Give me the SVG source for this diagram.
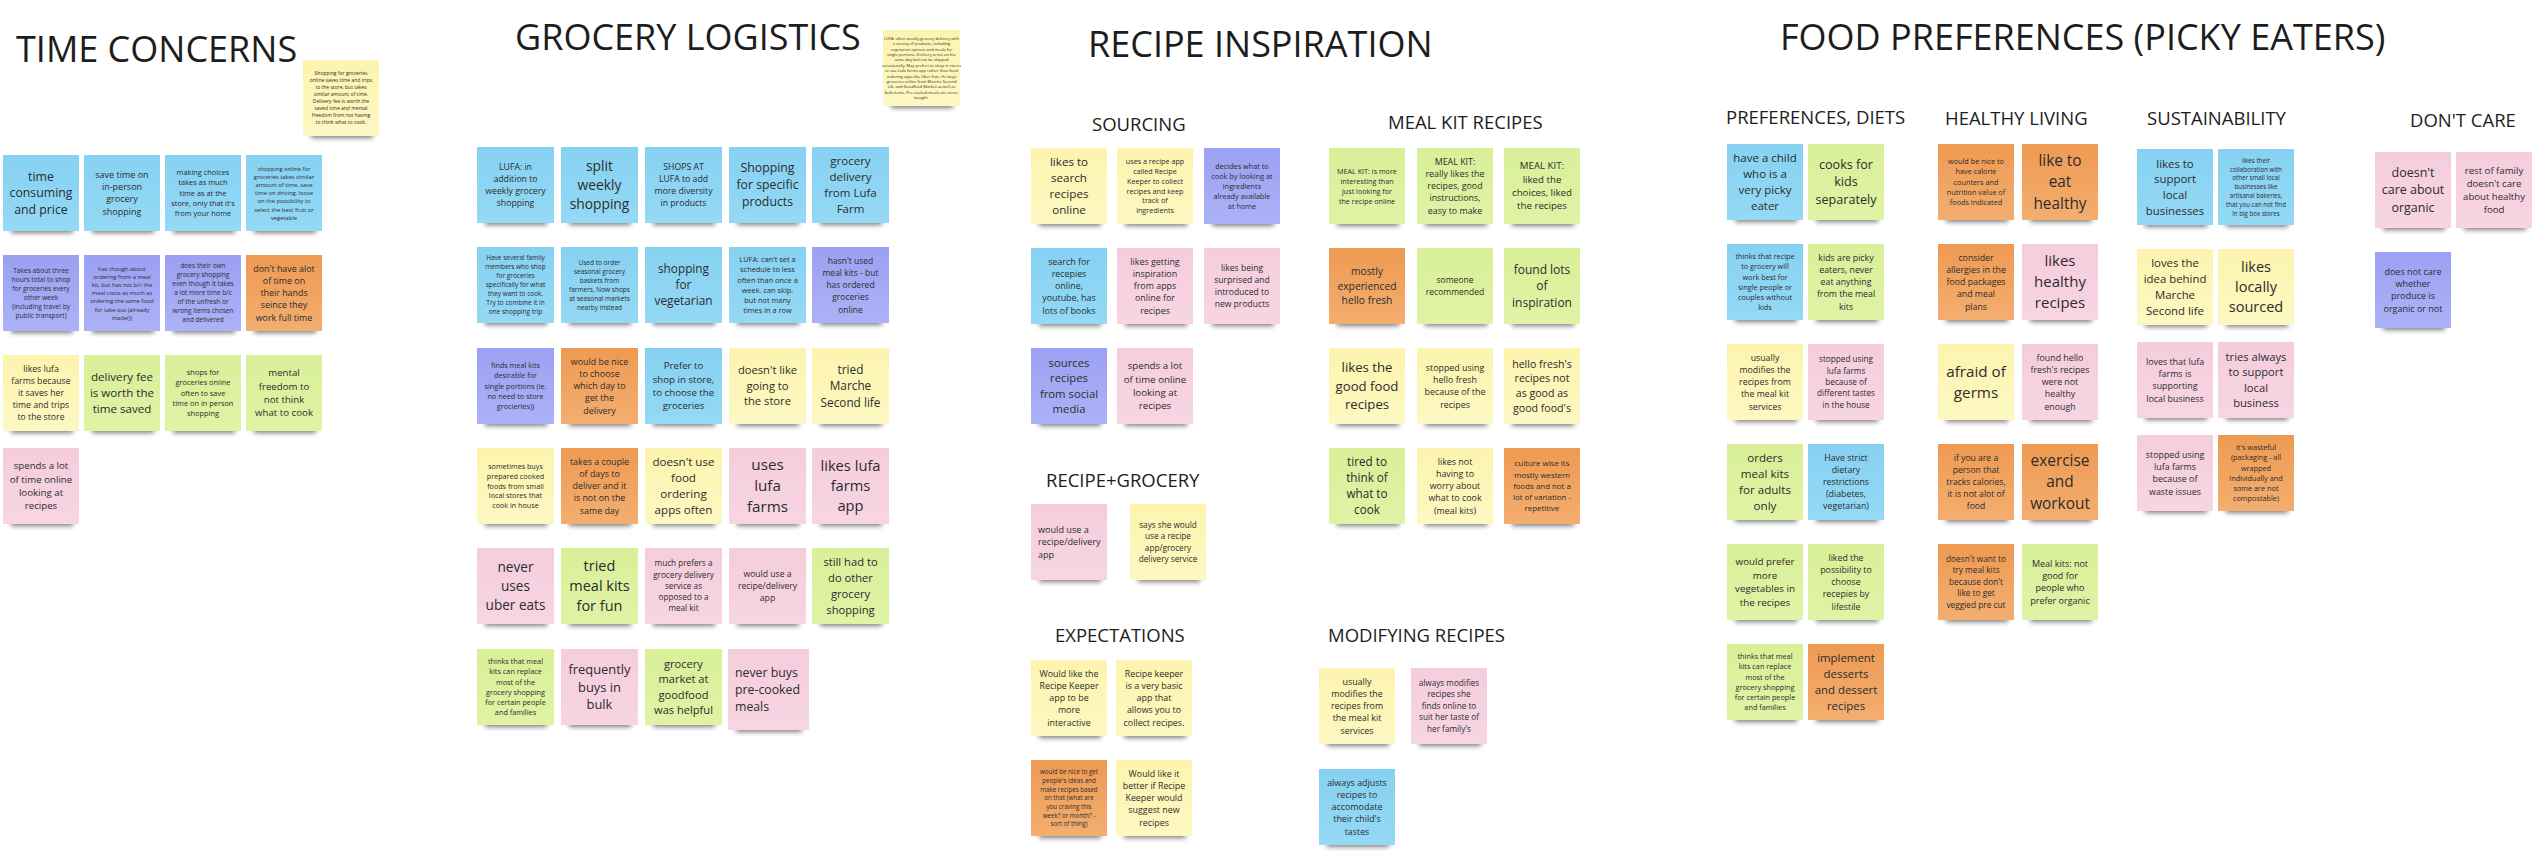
<svg xmlns="http://www.w3.org/2000/svg" width="2538" height="862" viewBox="0 0 2538 862">
<defs>
<linearGradient id="gb" x1="0" y1="0" x2="0" y2="1"><stop offset="0" stop-color="#86d1f2"/><stop offset="1" stop-color="#94d9f5"/></linearGradient>
<linearGradient id="gv" x1="0" y1="0" x2="0" y2="1"><stop offset="0" stop-color="#9ba0f2"/><stop offset="1" stop-color="#acb2f7"/></linearGradient>
<linearGradient id="go" x1="0" y1="0" x2="0" y2="1"><stop offset="0" stop-color="#ee9a52"/><stop offset="1" stop-color="#f3ae70"/></linearGradient>
<linearGradient id="gy" x1="0" y1="0" x2="0" y2="1"><stop offset="0" stop-color="#fcf4ae"/><stop offset="1" stop-color="#fdf8c2"/></linearGradient>
<linearGradient id="gg" x1="0" y1="0" x2="0" y2="1"><stop offset="0" stop-color="#d9ef98"/><stop offset="1" stop-color="#e0f3a6"/></linearGradient>
<linearGradient id="gp" x1="0" y1="0" x2="0" y2="1"><stop offset="0" stop-color="#f5cddd"/><stop offset="1" stop-color="#f7d5e2"/></linearGradient>
<filter id="blur" x="-20%" y="-50%" width="140%" height="200%"><feGaussianBlur stdDeviation="2.6"/></filter>
</defs>
<style>
.b{fill:url(#gb)}.v{fill:url(#gv)}.o{fill:url(#go)}.y{fill:url(#gy)}.g{fill:url(#gg)}.p{fill:url(#gp)}
.sh{fill:#000;opacity:.5;filter:url(#blur)}
text{font-family:"Open Sans","Liberation Sans",sans-serif;fill:#2c2c2c;text-anchor:middle}
text.l{text-anchor:start}
.h1{font-size:36px;fill:#1d1d1d;text-anchor:start}
.h2{font-size:18.5px;fill:#1d1d1d;text-anchor:start}
</style>
<rect width="2538" height="862" fill="#ffffff"/>

<g id="titles">
<text class="h1" x="16" y="62">TIME CONCERNS</text>
<text class="h1" x="515" y="50">GROCERY LOGISTICS</text>
<text class="h1" x="1088" y="57">RECIPE INSPIRATION</text>
<text class="h1" x="1780" y="50">FOOD PREFERENCES (PICKY EATERS)</text>
<text class="h2" x="1092" y="131">SOURCING</text>
<text class="h2" x="1388" y="129">MEAL KIT RECIPES</text>
<text class="h2" x="1046" y="487">RECIPE+GROCERY</text>
<text class="h2" x="1055" y="642">EXPECTATIONS</text>
<text class="h2" x="1328" y="642">MODIFYING RECIPES</text>
<text class="h2" x="1726" y="124">PREFERENCES, DIETS</text>
<text class="h2" x="1945" y="125">HEALTHY LIVING</text>
<text class="h2" x="2147" y="125">SUSTAINABILITY</text>
<text class="h2" x="2410" y="127">DON'T CARE</text>
</g>

<g id="connectors"></g>

<!-- TIME CONCERNS -->
<g id="t-note" transform="translate(303,60)"><rect class="sh" x="8" y="68" width="62" height="10"/><rect class="y" width="76" height="76"/><text style="font-size:5px" y="15.3"><tspan x="38">Shopping for groceries</tspan><tspan x="38" dy="7">online saves time and trips</tspan><tspan x="38" dy="7">to the store, but takes</tspan><tspan x="38" dy="7">similar amount of time.</tspan><tspan x="38" dy="7">Delivery fee is worth the</tspan><tspan x="38" dy="7">saved time and mental</tspan><tspan x="38" dy="7">freedom from not having</tspan><tspan x="38" dy="7">to think what to cook.</tspan></text></g>
<g id="t1" transform="translate(3,155)"><rect class="sh" x="8" y="68" width="62" height="10"/><rect class="b" width="76" height="76"/><text style="font-size:12.3px" y="25.6"><tspan x="38">time</tspan><tspan x="38" dy="16.7">consuming</tspan><tspan x="38" dy="16.7">and price</tspan></text></g>
<g id="t2" transform="translate(84,155)"><rect class="sh" x="8" y="68" width="62" height="10"/><rect class="b" width="76" height="76"/><text style="font-size:9px" y="22.8"><tspan x="38">save time on</tspan><tspan x="38" dy="12.25">in-person</tspan><tspan x="38" dy="12.25">grocery</tspan><tspan x="38" dy="12.25">shopping</tspan></text></g>
<g id="t3" transform="translate(165,155)"><rect class="sh" x="8" y="68" width="62" height="10"/><rect class="b" width="76" height="76"/><text style="font-size:7.4px" y="20.2"><tspan x="38">making choices</tspan><tspan x="38" dy="10.2">takes as much</tspan><tspan x="38" dy="10.2">time as at the</tspan><tspan x="38" dy="10.2">store, only that it's</tspan><tspan x="38" dy="10.2">from your home</tspan></text></g>
<g id="t4" transform="translate(246,155)"><rect class="sh" x="8" y="68" width="62" height="10"/><rect class="b" width="76" height="76"/><text style="font-size:5.8px" y="15.5"><tspan x="38">shopping online for</tspan><tspan x="38" dy="8.2">groceries takes similar</tspan><tspan x="38" dy="8.2">amount of time, save</tspan><tspan x="38" dy="8.2">time on driving, loose</tspan><tspan x="38" dy="8.2">on the possibility to</tspan><tspan x="38" dy="8.2">select the best fruit or</tspan><tspan x="38" dy="8.2">vegetable</tspan></text></g>
<g id="t5" transform="translate(3,255)"><rect class="sh" x="8" y="68" width="62" height="10"/><rect class="v" width="76" height="76"/><text style="font-size:6.6px" y="17.5"><tspan x="38">Takes about three</tspan><tspan x="38" dy="9.1">hours total to shop</tspan><tspan x="38" dy="9.1">for groceries every</tspan><tspan x="38" dy="9.1">other week</tspan><tspan x="38" dy="9.1">(including travel by</tspan><tspan x="38" dy="9.1">public transport)</tspan></text></g>
<g id="t6" transform="translate(84,255)"><rect class="sh" x="8" y="68" width="62" height="10"/><rect class="v" width="76" height="76"/><text style="font-size:5.8px" y="15.5"><tspan x="38">has though about</tspan><tspan x="38" dy="8.2">ordering from a meal</tspan><tspan x="38" dy="8.2">kit, but has not b/c the</tspan><tspan x="38" dy="8.2">meal costs as much as</tspan><tspan x="38" dy="8.2">ordering the same food</tspan><tspan x="38" dy="8.2">for take out (already</tspan><tspan x="38" dy="8.2">made())</tspan></text></g>
<g id="t7" transform="translate(165,255)"><rect class="sh" x="8" y="68" width="62" height="10"/><rect class="v" width="76" height="76"/><text style="font-size:6.5px" y="13.3"><tspan x="38">does their own</tspan><tspan x="38" dy="9">grocery shopping</tspan><tspan x="38" dy="9">even though it takes</tspan><tspan x="38" dy="9">a lot more time b/c</tspan><tspan x="38" dy="9">of the unfresh or</tspan><tspan x="38" dy="9">wrong items chosen</tspan><tspan x="38" dy="9">and delivered</tspan></text></g>
<g id="t8" transform="translate(246,255)"><rect class="sh" x="8" y="68" width="62" height="10"/><rect class="o" width="76" height="76"/><text style="font-size:8.9px" y="16.6"><tspan x="38">don't have alot</tspan><tspan x="38" dy="12.25">of time on</tspan><tspan x="38" dy="12.25">their hands</tspan><tspan x="38" dy="12.25">seince they</tspan><tspan x="38" dy="12.25">work full time</tspan></text></g>
<g id="t9" transform="translate(3,355)"><rect class="sh" x="8" y="68" width="62" height="10"/><rect class="y" width="76" height="76"/><text style="font-size:8.7px" y="17"><tspan x="38">likes lufa</tspan><tspan x="38" dy="12">farms because</tspan><tspan x="38" dy="12">it saves her</tspan><tspan x="38" dy="12">time and trips</tspan><tspan x="38" dy="12">to the store</tspan></text></g>
<g id="t10" transform="translate(84,355)"><rect class="sh" x="8" y="68" width="62" height="10"/><rect class="g" width="76" height="76"/><text style="font-size:11.6px" y="26"><tspan x="38">delivery fee</tspan><tspan x="38" dy="16">is worth the</tspan><tspan x="38" dy="16">time saved</tspan></text></g>
<g id="t11" transform="translate(165,355)"><rect class="sh" x="8" y="68" width="62" height="10"/><rect class="g" width="76" height="76"/><text style="font-size:7.4px" y="20.1"><tspan x="38">shops for</tspan><tspan x="38" dy="10.25">groceries online</tspan><tspan x="38" dy="10.25">often  to save</tspan><tspan x="38" dy="10.25">time on in person</tspan><tspan x="38" dy="10.25">shopping</tspan></text></g>
<g id="t12" transform="translate(246,355)"><rect class="sh" x="8" y="68" width="62" height="10"/><rect class="g" width="76" height="76"/><text style="font-size:9.7px" y="21.4"><tspan x="38">mental</tspan><tspan x="38" dy="13.3">freedom to</tspan><tspan x="38" dy="13.3">not think</tspan><tspan x="38" dy="13.3">what to cook</tspan></text></g>
<g id="t13" transform="translate(3,448)"><rect class="sh" x="8" y="68" width="62" height="10"/><rect class="p" width="76" height="76"/><text style="font-size:9.7px" y="21.4"><tspan x="38">spends a lot</tspan><tspan x="38" dy="13.3">of time online</tspan><tspan x="38" dy="13.3">looking at</tspan><tspan x="38" dy="13.3">recipes</tspan></text></g>

<!-- GROCERY LOGISTICS -->
<g id="g-note" transform="translate(883,30)"><rect class="sh" x="8" y="68" width="62" height="10"/><rect class="y" width="77" height="76"/><text style="font-size:4px" y="9.7"><tspan x="38.5">LUFA: often weekly grocery delivery with</tspan><tspan x="38.5" dy="5.4">a variety of products, including</tspan><tspan x="38.5" dy="5.4">vegetarian options and meals for</tspan><tspan x="38.5" dy="5.4">single portions. Delivery is not on the</tspan><tspan x="38.5" dy="5.4">same day but can be skipped</tspan><tspan x="38.5" dy="5.4">occasionally. May prefers to shop in stores</tspan><tspan x="38.5" dy="5.4">or use Lufa farms app rather than food</tspan><tspan x="38.5" dy="5.4">ordering apps like Uber Eats. He buys</tspan><tspan x="38.5" dy="5.4">groceries online from Marche Second</tspan><tspan x="38.5" dy="5.4">Life and Goodfood Market as well as</tspan><tspan x="38.5" dy="5.4">bulk items. Pre-cooked meals are never</tspan><tspan x="38.5" dy="5.4">bought.</tspan></text></g>
<g id="g1" transform="translate(477,147)"><rect class="sh" x="8" y="68" width="62" height="10"/><rect class="b" width="77" height="76"/><text style="font-size:8.7px" y="23"><tspan x="38.5">LUFA: in</tspan><tspan x="38.5" dy="12">addition to</tspan><tspan x="38.5" dy="12">weekly grocery</tspan><tspan x="38.5" dy="12">shopping</tspan></text></g>
<g id="g2" transform="translate(561,147)"><rect class="sh" x="8" y="68" width="62" height="10"/><rect class="b" width="77" height="76"/><text style="font-size:13.8px" y="23.8"><tspan x="38.5">split</tspan><tspan x="38.5" dy="19">weekly</tspan><tspan x="38.5" dy="19">shopping</tspan></text></g>
<g id="g3" transform="translate(645,147)"><rect class="sh" x="8" y="68" width="62" height="10"/><rect class="b" width="77" height="76"/><text style="font-size:8.7px" y="23"><tspan x="38.5">SHOPS AT</tspan><tspan x="38.5" dy="12">LUFA to add</tspan><tspan x="38.5" dy="12">more diversity</tspan><tspan x="38.5" dy="12">in products</tspan></text></g>
<g id="g4" transform="translate(729,147)"><rect class="sh" x="8" y="68" width="62" height="10"/><rect class="b" width="77" height="76"/><text style="font-size:12.3px" y="25.3"><tspan x="38.5">Shopping</tspan><tspan x="38.5" dy="17">for specific</tspan><tspan x="38.5" dy="17">products</tspan></text></g>
<g id="g5" transform="translate(812,147)"><rect class="sh" x="8" y="68" width="62" height="10"/><rect class="b" width="77" height="76"/><text style="font-size:11.5px" y="18.2"><tspan x="38.5">grocery</tspan><tspan x="38.5" dy="15.9">delivery</tspan><tspan x="38.5" dy="15.9">from Lufa</tspan><tspan x="38.5" dy="15.9">Farm</tspan></text></g>
<g id="g6" transform="translate(477,247)"><rect class="sh" x="8" y="68" width="62" height="10"/><rect class="b" width="77" height="76"/><text style="font-size:6.5px" y="13.3"><tspan x="38.5">Have several family</tspan><tspan x="38.5" dy="9">members who shop</tspan><tspan x="38.5" dy="9">for groceries</tspan><tspan x="38.5" dy="9">specifically for what</tspan><tspan x="38.5" dy="9">they want to cook.</tspan><tspan x="38.5" dy="9">Try to combine it in</tspan><tspan x="38.5" dy="9">one shopping trip</tspan></text></g>
<g id="g7" transform="translate(561,247)"><rect class="sh" x="8" y="68" width="62" height="10"/><rect class="b" width="77" height="76"/><text style="font-size:6.5px" y="17.8"><tspan x="38.5">Used to order</tspan><tspan x="38.5" dy="9">seasonal grocery</tspan><tspan x="38.5" dy="9">baskets from</tspan><tspan x="38.5" dy="9">farmers, Now shops</tspan><tspan x="38.5" dy="9">at seasonal markets</tspan><tspan x="38.5" dy="9">nearby instead</tspan></text></g>
<g id="g8" transform="translate(645,247)"><rect class="sh" x="8" y="68" width="62" height="10"/><rect class="b" width="77" height="76"/><text style="font-size:11.8px" y="25.8"><tspan x="38.5">shopping</tspan><tspan x="38.5" dy="16.3">for</tspan><tspan x="38.5" dy="16.3">vegetarian</tspan></text></g>
<g id="g9" transform="translate(729,247)"><rect class="sh" x="8" y="68" width="62" height="10"/><rect class="b" width="77" height="76"/><text style="font-size:7.4px" y="15.1"><tspan x="38.5">LUFA: can't set a</tspan><tspan x="38.5" dy="10.2">schedule to less</tspan><tspan x="38.5" dy="10.2">often than once a</tspan><tspan x="38.5" dy="10.2">week. can skip.</tspan><tspan x="38.5" dy="10.2">but not many</tspan><tspan x="38.5" dy="10.2">times in a row</tspan></text></g>
<g id="g10" transform="translate(812,247)"><rect class="sh" x="8" y="68" width="62" height="10"/><rect class="v" width="77" height="76"/><text style="font-size:8.5px" y="16.6"><tspan x="38.5">hasn't used</tspan><tspan x="38.5" dy="12.25">meal kits - but</tspan><tspan x="38.5" dy="12.25">has ordered</tspan><tspan x="38.5" dy="12.25">groceries</tspan><tspan x="38.5" dy="12.25">online</tspan></text></g>
<g id="g11" transform="translate(477,348)"><rect class="sh" x="8" y="68" width="62" height="10"/><rect class="v" width="77" height="76"/><text style="font-size:7.3px" y="20.1"><tspan x="38.5">finds meal kits</tspan><tspan x="38.5" dy="10.25">desirable for</tspan><tspan x="38.5" dy="10.25">single portions (ie.</tspan><tspan x="38.5" dy="10.25">no need to store</tspan><tspan x="38.5" dy="10.25">grocieries))</tspan></text></g>
<g id="g12" transform="translate(561,348)"><rect class="sh" x="8" y="68" width="62" height="10"/><rect class="o" width="77" height="76"/><text style="font-size:8.9px" y="16.7"><tspan x="38.5">would be nice</tspan><tspan x="38.5" dy="12.2">to choose</tspan><tspan x="38.5" dy="12.2">which day to</tspan><tspan x="38.5" dy="12.2">get the</tspan><tspan x="38.5" dy="12.2">delivery</tspan></text></g>
<g id="g13" transform="translate(645,348)"><rect class="sh" x="8" y="68" width="62" height="10"/><rect class="b" width="77" height="76"/><text style="font-size:9.7px" y="21.4"><tspan x="38.5">Prefer to</tspan><tspan x="38.5" dy="13.3">shop in store,</tspan><tspan x="38.5" dy="13.3">to choose the</tspan><tspan x="38.5" dy="13.3">groceries</tspan></text></g>
<g id="g14" transform="translate(729,348)"><rect class="sh" x="8" y="68" width="62" height="10"/><rect class="y" width="77" height="76"/><text style="font-size:11.2px" y="26.4"><tspan x="38.5">doesn't like</tspan><tspan x="38.5" dy="15.5">going to</tspan><tspan x="38.5" dy="15.5">the store</tspan></text></g>
<g id="g15" transform="translate(812,348)"><rect class="sh" x="8" y="68" width="62" height="10"/><rect class="y" width="77" height="76"/><text style="font-size:11.8px" y="25.7"><tspan x="38.5">tried</tspan><tspan x="38.5" dy="16.5">Marche</tspan><tspan x="38.5" dy="16.5">Second life</tspan></text></g>
<g id="g16" transform="translate(477,448)"><rect class="sh" x="8" y="68" width="62" height="10"/><rect class="y" width="77" height="76"/><text style="font-size:7.2px" y="20.7"><tspan x="38.5">sometimes buys</tspan><tspan x="38.5" dy="9.9">prepared cooked</tspan><tspan x="38.5" dy="9.9">foods from small</tspan><tspan x="38.5" dy="9.9">local stores that</tspan><tspan x="38.5" dy="9.9">cook in house</tspan></text></g>
<g id="g17" transform="translate(561,448)"><rect class="sh" x="8" y="68" width="62" height="10"/><rect class="o" width="77" height="76"/><text style="font-size:8.9px" y="16.6"><tspan x="38.5">takes a couple</tspan><tspan x="38.5" dy="12.25">of days to</tspan><tspan x="38.5" dy="12.25">deliver and it</tspan><tspan x="38.5" dy="12.25">is not on the</tspan><tspan x="38.5" dy="12.25">same day</tspan></text></g>
<g id="g18" transform="translate(645,448)"><rect class="sh" x="8" y="68" width="62" height="10"/><rect class="y" width="77" height="76"/><text style="font-size:11.6px" y="18"><tspan x="38.5">doesn't use</tspan><tspan x="38.5" dy="16">food</tspan><tspan x="38.5" dy="16">ordering</tspan><tspan x="38.5" dy="16">apps often</tspan></text></g>
<g id="g19" transform="translate(729,448)"><rect class="sh" x="8" y="68" width="62" height="10"/><rect class="p" width="77" height="76"/><text style="font-size:15.2px" y="22.3"><tspan x="38.5">uses</tspan><tspan x="38.5" dy="21">lufa</tspan><tspan x="38.5" dy="21">farms</tspan></text></g>
<g id="g20" transform="translate(812,448)"><rect class="sh" x="8" y="68" width="62" height="10"/><rect class="p" width="77" height="76"/><text style="font-size:14.7px" y="22.8"><tspan x="38.5">likes lufa</tspan><tspan x="38.5" dy="20.3">farms</tspan><tspan x="38.5" dy="20.3">app</tspan></text></g>
<g id="g21" transform="translate(477,548)"><rect class="sh" x="8" y="68" width="62" height="10"/><rect class="p" width="77" height="76"/><text style="font-size:13.6px" y="24"><tspan x="38.5">never</tspan><tspan x="38.5" dy="18.8">uses</tspan><tspan x="38.5" dy="18.8">uber eats</tspan></text></g>
<g id="g22" transform="translate(561,548)"><rect class="sh" x="8" y="68" width="62" height="10"/><rect class="g" width="77" height="76"/><text style="font-size:14.5px" y="23.1"><tspan x="38.5">tried</tspan><tspan x="38.5" dy="20">meal kits</tspan><tspan x="38.5" dy="20">for fun</tspan></text></g>
<g id="g23" transform="translate(645,548)"><rect class="sh" x="8" y="68" width="62" height="10"/><rect class="p" width="77" height="76"/><text style="font-size:8.2px" y="18.4"><tspan x="38.5">much prefers a</tspan><tspan x="38.5" dy="11.25">grocery delivery</tspan><tspan x="38.5" dy="11.25">service as</tspan><tspan x="38.5" dy="11.25">opposed to a</tspan><tspan x="38.5" dy="11.25">meal kit</tspan></text></g>
<g id="g24" transform="translate(729,548)"><rect class="sh" x="8" y="68" width="62" height="10"/><rect class="p" width="77" height="76"/><text style="font-size:8.6px" y="29.2"><tspan x="38.5">would use a</tspan><tspan x="38.5" dy="11.8">recipe/delivery</tspan><tspan x="38.5" dy="11.8">app</tspan></text></g>
<g id="g25" transform="translate(812,548)"><rect class="sh" x="8" y="68" width="62" height="10"/><rect class="g" width="77" height="76"/><text style="font-size:11.2px" y="17.9"><tspan x="38.5">still had to</tspan><tspan x="38.5" dy="16.1">do other</tspan><tspan x="38.5" dy="16.1">grocery</tspan><tspan x="38.5" dy="16.1">shopping</tspan></text></g>
<g id="g26" transform="translate(477,649)"><rect class="sh" x="8" y="68" width="62" height="10"/><rect class="g" width="77" height="76"/><text style="font-size:7.3px" y="15.1"><tspan x="38.5">thinks that meal</tspan><tspan x="38.5" dy="10.2">kits can replace</tspan><tspan x="38.5" dy="10.2">most of the</tspan><tspan x="38.5" dy="10.2">grocery shopping</tspan><tspan x="38.5" dy="10.2">for certain people</tspan><tspan x="38.5" dy="10.2">and families</tspan></text></g>
<g id="g27" transform="translate(561,649)"><rect class="sh" x="8" y="68" width="62" height="10"/><rect class="p" width="77" height="76"/><text style="font-size:12.9px" y="24.7"><tspan x="38.5">frequently</tspan><tspan x="38.5" dy="17.8">buys in</tspan><tspan x="38.5" dy="17.8">bulk</tspan></text></g>
<g id="g28" transform="translate(645,649)"><rect class="sh" x="8" y="68" width="62" height="10"/><rect class="g" width="77" height="76"/><text style="font-size:11.1px" y="18.9"><tspan x="38.5">grocery</tspan><tspan x="38.5" dy="15.3">market at</tspan><tspan x="38.5" dy="15.3">goodfood</tspan><tspan x="38.5" dy="15.3">was helpful</tspan></text></g>
<g id="g29" transform="translate(728,649)"><rect class="sh" x="8" y="73" width="66" height="10"/><rect class="p" width="81" height="81"/><text class="l" style="font-size:12.3px" y="27.8"><tspan x="7">never buys</tspan><tspan x="7" dy="17">pre-cooked</tspan><tspan x="7" dy="17">meals</tspan></text></g>

<!-- RECIPE INSPIRATION: SOURCING -->
<g id="r1" transform="translate(1031,148)"><rect class="sh" x="8" y="68" width="62" height="10"/><rect class="y" width="76" height="76"/><text style="font-size:11.6px" y="18"><tspan x="38">likes to</tspan><tspan x="38" dy="16">search</tspan><tspan x="38" dy="16">recipes</tspan><tspan x="38" dy="16">online</tspan></text></g>
<g id="r2" transform="translate(1117,148)"><rect class="sh" x="8" y="68" width="62" height="10"/><rect class="y" width="76" height="76"/><text style="font-size:7.2px" y="15.8"><tspan x="38">uses a recipe app</tspan><tspan x="38" dy="9.9">called Recipe</tspan><tspan x="38" dy="9.9">Keeper to collect</tspan><tspan x="38" dy="9.9">recipes and keep</tspan><tspan x="38" dy="9.9">track of</tspan><tspan x="38" dy="9.9">ingredients</tspan></text></g>
<g id="r3" transform="translate(1204,148)"><rect class="sh" x="8" y="68" width="62" height="10"/><rect class="v" width="76" height="76"/><text style="font-size:7.3px" y="20.6"><tspan x="38">decides what to</tspan><tspan x="38" dy="10">cook by looking at</tspan><tspan x="38" dy="10">ingredients</tspan><tspan x="38" dy="10">already available</tspan><tspan x="38" dy="10">at home</tspan></text></g>
<g id="r4" transform="translate(1031,248)"><rect class="sh" x="8" y="68" width="62" height="10"/><rect class="b" width="76" height="76"/><text style="font-size:8.9px" y="16.7"><tspan x="38">search for</tspan><tspan x="38" dy="12.2">recepies</tspan><tspan x="38" dy="12.2">online,</tspan><tspan x="38" dy="12.2">youtube, has</tspan><tspan x="38" dy="12.2">lots of books</tspan></text></g>
<g id="r5" transform="translate(1117,248)"><rect class="sh" x="8" y="68" width="62" height="10"/><rect class="p" width="76" height="76"/><text style="font-size:8.9px" y="16.7"><tspan x="38">likes getting</tspan><tspan x="38" dy="12.2">inspiration</tspan><tspan x="38" dy="12.2">from apps</tspan><tspan x="38" dy="12.2">online for</tspan><tspan x="38" dy="12.2">recipes</tspan></text></g>
<g id="r6" transform="translate(1204,248)"><rect class="sh" x="8" y="68" width="62" height="10"/><rect class="p" width="76" height="76"/><text style="font-size:8.6px" y="23.2"><tspan x="38">likes being</tspan><tspan x="38" dy="11.9">surprised and</tspan><tspan x="38" dy="11.9">introduced to</tspan><tspan x="38" dy="11.9">new products</tspan></text></g>
<g id="r7" transform="translate(1031,348)"><rect class="sh" x="8" y="68" width="62" height="10"/><rect class="v" width="76" height="76"/><text style="font-size:11.3px" y="18.7"><tspan x="38">sources</tspan><tspan x="38" dy="15.5">recipes</tspan><tspan x="38" dy="15.5">from social</tspan><tspan x="38" dy="15.5">media</tspan></text></g>
<g id="r8" transform="translate(1117,348)"><rect class="sh" x="8" y="68" width="62" height="10"/><rect class="p" width="76" height="76"/><text style="font-size:9.7px" y="21.4"><tspan x="38">spends a lot</tspan><tspan x="38" dy="13.3">of time online</tspan><tspan x="38" dy="13.3">looking at</tspan><tspan x="38" dy="13.3">recipes</tspan></text></g>

<!-- MEAL KIT RECIPES -->
<g id="m1" transform="translate(1329,148)"><rect class="sh" x="8" y="68" width="62" height="10"/><rect class="g" width="76" height="76"/><text style="font-size:7.2px" y="25.6"><tspan x="38">MEAL KIT: is more</tspan><tspan x="38" dy="10">interesting than</tspan><tspan x="38" dy="10">just looking for</tspan><tspan x="38" dy="10">the recipe online</tspan></text></g>
<g id="m2" transform="translate(1417,148)"><rect class="sh" x="8" y="68" width="62" height="10"/><rect class="g" width="76" height="76"/><text style="font-size:8.9px" y="16.6"><tspan x="38">MEAL KIT:</tspan><tspan x="38" dy="12.25">really likes the</tspan><tspan x="38" dy="12.25">recipes, good</tspan><tspan x="38" dy="12.25">instructions,</tspan><tspan x="38" dy="12.25">easy to make</tspan></text></g>
<g id="m3" transform="translate(1504,148)"><rect class="sh" x="8" y="68" width="62" height="10"/><rect class="g" width="76" height="76"/><text style="font-size:9.7px" y="21.4"><tspan x="38">MEAL KIT:</tspan><tspan x="38" dy="13.3">liked the</tspan><tspan x="38" dy="13.3">choices, liked</tspan><tspan x="38" dy="13.3">the recipes</tspan></text></g>
<g id="m4" transform="translate(1329,248)"><rect class="sh" x="8" y="68" width="62" height="10"/><rect class="o" width="76" height="76"/><text style="font-size:10.3px" y="27.4"><tspan x="38">mostly</tspan><tspan x="38" dy="14.2">experienced</tspan><tspan x="38" dy="14.2">hello fresh</tspan></text></g>
<g id="m5" transform="translate(1417,248)"><rect class="sh" x="8" y="68" width="62" height="10"/><rect class="g" width="76" height="76"/><text style="font-size:8.5px" y="35.1"><tspan x="38">someone</tspan><tspan x="38" dy="11.7">recommended</tspan></text></g>
<g id="m6" transform="translate(1504,248)"><rect class="sh" x="8" y="68" width="62" height="10"/><rect class="g" width="76" height="76"/><text style="font-size:12px" y="25.7"><tspan x="38">found lots</tspan><tspan x="38" dy="16.5">of</tspan><tspan x="38" dy="16.5">inspiration</tspan></text></g>
<g id="m7" transform="translate(1329,348)"><rect class="sh" x="8" y="68" width="62" height="10"/><rect class="y" width="76" height="76"/><text style="font-size:13.2px" y="24.4"><tspan x="38">likes the</tspan><tspan x="38" dy="18.2">good food</tspan><tspan x="38" dy="18.2">recipes</tspan></text></g>
<g id="m8" transform="translate(1417,348)"><rect class="sh" x="8" y="68" width="62" height="10"/><rect class="y" width="76" height="76"/><text style="font-size:8.9px" y="22.7"><tspan x="38">stopped using</tspan><tspan x="38" dy="12.3">hello fresh</tspan><tspan x="38" dy="12.3">because of the</tspan><tspan x="38" dy="12.3">recipes</tspan></text></g>
<g id="m9" transform="translate(1504,348)"><rect class="sh" x="8" y="68" width="62" height="10"/><rect class="y" width="76" height="76"/><text style="font-size:10.6px" y="19.7"><tspan x="38">hello fresh's</tspan><tspan x="38" dy="14.7">recipes not</tspan><tspan x="38" dy="14.7">as good as</tspan><tspan x="38" dy="14.7">good food's</tspan></text></g>
<g id="m10" transform="translate(1329,448)"><rect class="sh" x="8" y="68" width="62" height="10"/><rect class="g" width="76" height="76"/><text style="font-size:11.7px" y="17.9"><tspan x="38">tired to</tspan><tspan x="38" dy="16.1">think of</tspan><tspan x="38" dy="16.1">what to</tspan><tspan x="38" dy="16.1">cook</tspan></text></g>
<g id="m11" transform="translate(1417,448)"><rect class="sh" x="8" y="68" width="62" height="10"/><rect class="y" width="76" height="76"/><text style="font-size:8.9px" y="16.6"><tspan x="38">likes not</tspan><tspan x="38" dy="12.25">having to</tspan><tspan x="38" dy="12.25">worry about</tspan><tspan x="38" dy="12.25">what to cook</tspan><tspan x="38" dy="12.25">(meal kits)</tspan></text></g>
<g id="m12" transform="translate(1504,448)"><rect class="sh" x="8" y="68" width="62" height="10"/><rect class="o" width="76" height="76"/><text style="font-size:7.9px" y="18.3"><tspan x="38">culture wise its</tspan><tspan x="38" dy="11.25">mostly western</tspan><tspan x="38" dy="11.25">foods and not a</tspan><tspan x="38" dy="11.25">lot of variation -</tspan><tspan x="38" dy="11.25">repetitive</tspan></text></g>

<!-- RECIPE+GROCERY -->
<g id="rg1" transform="translate(1031,504)"><rect class="sh" x="8" y="68" width="62" height="10"/><rect class="p" width="76" height="76"/><text class="l" style="font-size:9.1px" y="28.7"><tspan x="7">would use a</tspan><tspan x="7" dy="12.5">recipe/delivery</tspan><tspan x="7" dy="12.5">app</tspan></text></g>
<g id="rg2" transform="translate(1130,504)"><rect class="sh" x="8" y="68" width="62" height="10"/><rect class="y" width="76" height="76"/><text style="font-size:8.2px" y="23.9"><tspan x="38">says she would</tspan><tspan x="38" dy="11.3">use a recipe</tspan><tspan x="38" dy="11.3">app/grocery</tspan><tspan x="38" dy="11.3">delivery service</tspan></text></g>

<!-- EXPECTATIONS -->
<g id="e1" transform="translate(1031,660)"><rect class="sh" x="8" y="68" width="62" height="10"/><rect class="y" width="76" height="76"/><text style="font-size:8.9px" y="16.6"><tspan x="38">Would like the</tspan><tspan x="38" dy="12.25">Recipe Keeper</tspan><tspan x="38" dy="12.25">app to be</tspan><tspan x="38" dy="12.25">more</tspan><tspan x="38" dy="12.25">interactive</tspan></text></g>
<g id="e2" transform="translate(1116,660)"><rect class="sh" x="8" y="68" width="62" height="10"/><rect class="y" width="76" height="76"/><text style="font-size:8.9px" y="16.6"><tspan x="38">Recipe keeper</tspan><tspan x="38" dy="12.25">is a very basic</tspan><tspan x="38" dy="12.25">app that</tspan><tspan x="38" dy="12.25">allows you to</tspan><tspan x="38" dy="12.25">collect recipes.</tspan></text></g>
<g id="e3" transform="translate(1031,760)"><rect class="sh" x="8" y="68" width="62" height="10"/><rect class="o" width="76" height="76"/><text style="font-size:6.2px" y="14.1"><tspan x="38">would be nice to get</tspan><tspan x="38" dy="8.7">people's ideas and</tspan><tspan x="38" dy="8.7">make recipes based</tspan><tspan x="38" dy="8.7">on that (what are</tspan><tspan x="38" dy="8.7">you craving this</tspan><tspan x="38" dy="8.7">week? or month? -</tspan><tspan x="38" dy="8.7">sort of thing)</tspan></text></g>
<g id="e4" transform="translate(1116,760)"><rect class="sh" x="8" y="68" width="62" height="10"/><rect class="y" width="76" height="76"/><text style="font-size:8.9px" y="16.5"><tspan x="38">Would like it</tspan><tspan x="38" dy="12.3">better if Recipe</tspan><tspan x="38" dy="12.3">Keeper would</tspan><tspan x="38" dy="12.3">suggest new</tspan><tspan x="38" dy="12.3">recipes</tspan></text></g>

<!-- MODIFYING RECIPES -->
<g id="mr1" transform="translate(1319,668)"><rect class="sh" x="8" y="68" width="62" height="10"/><rect class="y" width="76" height="76"/><text style="font-size:8.9px" y="16.6"><tspan x="38">usually</tspan><tspan x="38" dy="12.25">modifies the</tspan><tspan x="38" dy="12.25">recipes from</tspan><tspan x="38" dy="12.25">the meal kit</tspan><tspan x="38" dy="12.25">services</tspan></text></g>
<g id="mr2" transform="translate(1411,668)"><rect class="sh" x="8" y="68" width="62" height="10"/><rect class="p" width="76" height="76"/><text style="font-size:8.2px" y="17.9"><tspan x="38">always modifies</tspan><tspan x="38" dy="11.5">recipes she</tspan><tspan x="38" dy="11.5">finds online to</tspan><tspan x="38" dy="11.5">suit her taste of</tspan><tspan x="38" dy="11.5">her family's</tspan></text></g>
<g id="mr3" transform="translate(1319,769)"><rect class="sh" x="8" y="68" width="62" height="10"/><rect class="b" width="76" height="76"/><text style="font-size:8.9px" y="16.6"><tspan x="38">always adjusts</tspan><tspan x="38" dy="12.25">recipes to</tspan><tspan x="38" dy="12.25">accomodate</tspan><tspan x="38" dy="12.25">their child's</tspan><tspan x="38" dy="12.25">tastes</tspan></text></g>

<!-- PREFERENCES, DIETS -->
<g id="p1" transform="translate(1727,144)"><rect class="sh" x="8" y="68" width="62" height="10"/><rect class="b" width="76" height="76"/><text style="font-size:11.5px" y="18.2"><tspan x="38">have a child</tspan><tspan x="38" dy="15.9">who is a</tspan><tspan x="38" dy="15.9">very picky</tspan><tspan x="38" dy="15.9">eater</tspan></text></g>
<g id="p2" transform="translate(1808,144)"><rect class="sh" x="8" y="68" width="62" height="10"/><rect class="g" width="76" height="76"/><text style="font-size:12.6px" y="24.9"><tspan x="38">cooks for</tspan><tspan x="38" dy="17.5">kids</tspan><tspan x="38" dy="17.5">separately</tspan></text></g>
<g id="p3" transform="translate(1727,244)"><rect class="sh" x="8" y="68" width="62" height="10"/><rect class="b" width="76" height="76"/><text style="font-size:7.3px" y="15.3"><tspan x="38">thinks that recipe</tspan><tspan x="38" dy="10.1">to grocery will</tspan><tspan x="38" dy="10.1">work best for</tspan><tspan x="38" dy="10.1">single people or</tspan><tspan x="38" dy="10.1">couples without</tspan><tspan x="38" dy="10.1">kids</tspan></text></g>
<g id="p4" transform="translate(1808,244)"><rect class="sh" x="8" y="68" width="62" height="10"/><rect class="g" width="76" height="76"/><text style="font-size:8.8px" y="16.7"><tspan x="38">kids are picky</tspan><tspan x="38" dy="12.2">eaters, never</tspan><tspan x="38" dy="12.2">eat anything</tspan><tspan x="38" dy="12.2">from the meal</tspan><tspan x="38" dy="12.2">kits</tspan></text></g>
<g id="p5" transform="translate(1727,344)"><rect class="sh" x="8" y="68" width="62" height="10"/><rect class="y" width="76" height="76"/><text style="font-size:8.8px" y="16.7"><tspan x="38">usually</tspan><tspan x="38" dy="12.2">modifies the</tspan><tspan x="38" dy="12.2">recipes from</tspan><tspan x="38" dy="12.2">the meal kit</tspan><tspan x="38" dy="12.2">services</tspan></text></g>
<g id="p6" transform="translate(1808,344)"><rect class="sh" x="8" y="68" width="62" height="10"/><rect class="p" width="76" height="76"/><text style="font-size:8.2px" y="18.1"><tspan x="38">stopped using</tspan><tspan x="38" dy="11.4">lufa farms</tspan><tspan x="38" dy="11.4">because of</tspan><tspan x="38" dy="11.4">different tastes</tspan><tspan x="38" dy="11.4">in the house</tspan></text></g>
<g id="p7" transform="translate(1727,444)"><rect class="sh" x="8" y="68" width="62" height="10"/><rect class="g" width="76" height="76"/><text style="font-size:11.6px" y="18"><tspan x="38">orders</tspan><tspan x="38" dy="16">meal kits</tspan><tspan x="38" dy="16">for adults</tspan><tspan x="38" dy="16">only</tspan></text></g>
<g id="p8" transform="translate(1808,444)"><rect class="sh" x="8" y="68" width="62" height="10"/><rect class="b" width="76" height="76"/><text style="font-size:8.8px" y="16.9"><tspan x="38">Have strict</tspan><tspan x="38" dy="12.1">dietary</tspan><tspan x="38" dy="12.1">restrictions</tspan><tspan x="38" dy="12.1">(diabetes,</tspan><tspan x="38" dy="12.1">vegetarian)</tspan></text></g>
<g id="p9" transform="translate(1727,544)"><rect class="sh" x="8" y="68" width="62" height="10"/><rect class="g" width="76" height="76"/><text style="font-size:9.8px" y="21"><tspan x="38">would prefer</tspan><tspan x="38" dy="13.6">more</tspan><tspan x="38" dy="13.6">vegetables in</tspan><tspan x="38" dy="13.6">the recipes</tspan></text></g>
<g id="p10" transform="translate(1808,544)"><rect class="sh" x="8" y="68" width="62" height="10"/><rect class="g" width="76" height="76"/><text style="font-size:8.8px" y="16.7"><tspan x="38">liked the</tspan><tspan x="38" dy="12.2">possibility to</tspan><tspan x="38" dy="12.2">choose</tspan><tspan x="38" dy="12.2">recepies by</tspan><tspan x="38" dy="12.2">lifestile</tspan></text></g>
<g id="p11" transform="translate(1727,644)"><rect class="sh" x="8" y="68" width="62" height="10"/><rect class="g" width="76" height="76"/><text style="font-size:7.3px" y="14.9"><tspan x="38">thinks that meal</tspan><tspan x="38" dy="10.3">kits can replace</tspan><tspan x="38" dy="10.3">most of the</tspan><tspan x="38" dy="10.3">grocery shopping</tspan><tspan x="38" dy="10.3">for certain people</tspan><tspan x="38" dy="10.3">and families</tspan></text></g>
<g id="p12" transform="translate(1808,644)"><rect class="sh" x="8" y="68" width="62" height="10"/><rect class="o" width="76" height="76"/><text style="font-size:11.4px" y="18.3"><tspan x="38">implement</tspan><tspan x="38" dy="15.8">desserts</tspan><tspan x="38" dy="15.8">and dessert</tspan><tspan x="38" dy="15.8">recipes</tspan></text></g>

<!-- HEALTHY LIVING -->
<g id="h1" transform="translate(1938,144)"><rect class="sh" x="8" y="68" width="62" height="10"/><rect class="o" width="76" height="76"/><text style="font-size:7.3px" y="20.2"><tspan x="38">would be nice to</tspan><tspan x="38" dy="10.2">have calorie</tspan><tspan x="38" dy="10.2">counters and</tspan><tspan x="38" dy="10.2">nutrition value of</tspan><tspan x="38" dy="10.2">foods indicated</tspan></text></g>
<g id="h2" transform="translate(2022,144)"><rect class="sh" x="8" y="68" width="62" height="10"/><rect class="o" width="76" height="76"/><text style="font-size:15.4px" y="21.8"><tspan x="38">like to</tspan><tspan x="38" dy="21.6">eat</tspan><tspan x="38" dy="21.6">healthy</tspan></text></g>
<g id="h3" transform="translate(1938,244)"><rect class="sh" x="8" y="68" width="62" height="10"/><rect class="o" width="76" height="76"/><text style="font-size:8.8px" y="16.7"><tspan x="38">consider</tspan><tspan x="38" dy="12.2">allergies in the</tspan><tspan x="38" dy="12.2">food packages</tspan><tspan x="38" dy="12.2">and meal</tspan><tspan x="38" dy="12.2">plans</tspan></text></g>
<g id="h4" transform="translate(2022,244)"><rect class="sh" x="8" y="68" width="62" height="10"/><rect class="p" width="76" height="76"/><text style="font-size:15px" y="22.3"><tspan x="38">likes</tspan><tspan x="38" dy="21">healthy</tspan><tspan x="38" dy="21">recipes</tspan></text></g>
<g id="h5" transform="translate(1938,344)"><rect class="sh" x="8" y="68" width="62" height="10"/><rect class="y" width="76" height="76"/><text style="font-size:15.2px" y="32.7"><tspan x="38">afraid of</tspan><tspan x="38" dy="21.2">germs</tspan></text></g>
<g id="h6" transform="translate(2022,344)"><rect class="sh" x="8" y="68" width="62" height="10"/><rect class="p" width="76" height="76"/><text style="font-size:8.8px" y="16.7"><tspan x="38">found hello</tspan><tspan x="38" dy="12.2">fresh's recipes</tspan><tspan x="38" dy="12.2">were not</tspan><tspan x="38" dy="12.2">healthy</tspan><tspan x="38" dy="12.2">enough</tspan></text></g>
<g id="h7" transform="translate(1938,444)"><rect class="sh" x="8" y="68" width="62" height="10"/><rect class="o" width="76" height="76"/><text style="font-size:8.6px" y="17.2"><tspan x="38">if you are a</tspan><tspan x="38" dy="11.9">person that</tspan><tspan x="38" dy="11.9">tracks calories,</tspan><tspan x="38" dy="11.9">it is not alot of</tspan><tspan x="38" dy="11.9">food</tspan></text></g>
<g id="h8" transform="translate(2022,444)"><rect class="sh" x="8" y="68" width="62" height="10"/><rect class="o" width="76" height="76"/><text style="font-size:15.4px" y="21.8"><tspan x="38">exercise</tspan><tspan x="38" dy="21.6">and</tspan><tspan x="38" dy="21.6">workout</tspan></text></g>
<g id="h9" transform="translate(1938,544)"><rect class="sh" x="8" y="68" width="62" height="10"/><rect class="o" width="76" height="76"/><text style="font-size:8.3px" y="17.9"><tspan x="38">doesn't want to</tspan><tspan x="38" dy="11.5">try meal kits</tspan><tspan x="38" dy="11.5">because don't</tspan><tspan x="38" dy="11.5">like to get</tspan><tspan x="38" dy="11.5">veggied pre cut</tspan></text></g>
<g id="h10" transform="translate(2022,544)"><rect class="sh" x="8" y="68" width="62" height="10"/><rect class="g" width="76" height="76"/><text style="font-size:9px" y="22.6"><tspan x="38">Meal kits: not</tspan><tspan x="38" dy="12.4">good for</tspan><tspan x="38" dy="12.4">people who</tspan><tspan x="38" dy="12.4">prefer organic</tspan></text></g>

<!-- SUSTAINABILITY -->
<g id="s1" transform="translate(2137,149)"><rect class="sh" x="8" y="68" width="62" height="10"/><rect class="b" width="76" height="76"/><text style="font-size:11.4px" y="18.5"><tspan x="38">likes to</tspan><tspan x="38" dy="15.7">support</tspan><tspan x="38" dy="15.7">local</tspan><tspan x="38" dy="15.7">businesses</tspan></text></g>
<g id="s2" transform="translate(2218,149)"><rect class="sh" x="8" y="68" width="62" height="10"/><rect class="b" width="76" height="76"/><text style="font-size:6.2px" y="13.8"><tspan x="38">likes their</tspan><tspan x="38" dy="8.8">collaboration with</tspan><tspan x="38" dy="8.8">other small local</tspan><tspan x="38" dy="8.8">businesses like</tspan><tspan x="38" dy="8.8">artisanal bakeries,</tspan><tspan x="38" dy="8.8">that you can not find</tspan><tspan x="38" dy="8.8">in big box stores</tspan></text></g>
<g id="s3" transform="translate(2137,249)"><rect class="sh" x="8" y="68" width="62" height="10"/><rect class="y" width="76" height="76"/><text style="font-size:11.4px" y="18.2"><tspan x="38">loves the</tspan><tspan x="38" dy="15.9">idea behind</tspan><tspan x="38" dy="15.9">Marche</tspan><tspan x="38" dy="15.9">Second life</tspan></text></g>
<g id="s4" transform="translate(2218,249)"><rect class="sh" x="8" y="68" width="62" height="10"/><rect class="y" width="76" height="76"/><text style="font-size:14.5px" y="23.1"><tspan x="38">likes</tspan><tspan x="38" dy="20">locally</tspan><tspan x="38" dy="20">sourced</tspan></text></g>
<g id="s5" transform="translate(2137,342)"><rect class="sh" x="8" y="68" width="62" height="10"/><rect class="p" width="76" height="76"/><text style="font-size:8.9px" y="22.7"><tspan x="38">loves that lufa</tspan><tspan x="38" dy="12.3">farms is</tspan><tspan x="38" dy="12.3">supporting</tspan><tspan x="38" dy="12.3">local business</tspan></text></g>
<g id="s6" transform="translate(2218,342)"><rect class="sh" x="8" y="68" width="62" height="10"/><rect class="p" width="76" height="76"/><text style="font-size:11.2px" y="18.7"><tspan x="38">tries always</tspan><tspan x="38" dy="15.5">to support</tspan><tspan x="38" dy="15.5">local</tspan><tspan x="38" dy="15.5">business</tspan></text></g>
<g id="s7" transform="translate(2137,435)"><rect class="sh" x="8" y="68" width="62" height="10"/><rect class="p" width="76" height="76"/><text style="font-size:8.9px" y="22.7"><tspan x="38">stopped using</tspan><tspan x="38" dy="12.3">lufa farms</tspan><tspan x="38" dy="12.3">because of</tspan><tspan x="38" dy="12.3">waste issues</tspan></text></g>
<g id="s8" transform="translate(2218,435)"><rect class="sh" x="8" y="68" width="62" height="10"/><rect class="o" width="76" height="76"/><text style="font-size:7.3px" y="15.1"><tspan x="38">it's wasteful</tspan><tspan x="38" dy="10.2">(packaging - all</tspan><tspan x="38" dy="10.2">wrapped</tspan><tspan x="38" dy="10.2">individually and</tspan><tspan x="38" dy="10.2">some are not</tspan><tspan x="38" dy="10.2">compostable)</tspan></text></g>

<!-- DON'T CARE -->
<g id="d1" transform="translate(2375,152)"><rect class="sh" x="8" y="68" width="62" height="10"/><rect class="p" width="76" height="76"/><text style="font-size:12.5px" y="25.2"><tspan x="38">doesn't</tspan><tspan x="38" dy="17.2">care about</tspan><tspan x="38" dy="17.2">organic</tspan></text></g>
<g id="d2" transform="translate(2456,152)"><rect class="sh" x="8" y="68" width="62" height="10"/><rect class="p" width="76" height="76"/><text style="font-size:9.6px" y="21.6"><tspan x="38">rest of family</tspan><tspan x="38" dy="13.2">doesn't care</tspan><tspan x="38" dy="13.2">about healthy</tspan><tspan x="38" dy="13.2">food</tspan></text></g>
<g id="d3" transform="translate(2375,252)"><rect class="sh" x="8" y="68" width="62" height="10"/><rect class="v" width="76" height="76"/><text style="font-size:9px" y="22.6"><tspan x="38">does not care</tspan><tspan x="38" dy="12.4">whether</tspan><tspan x="38" dy="12.4">produce is</tspan><tspan x="38" dy="12.4">organic or not</tspan></text></g>
</svg>
